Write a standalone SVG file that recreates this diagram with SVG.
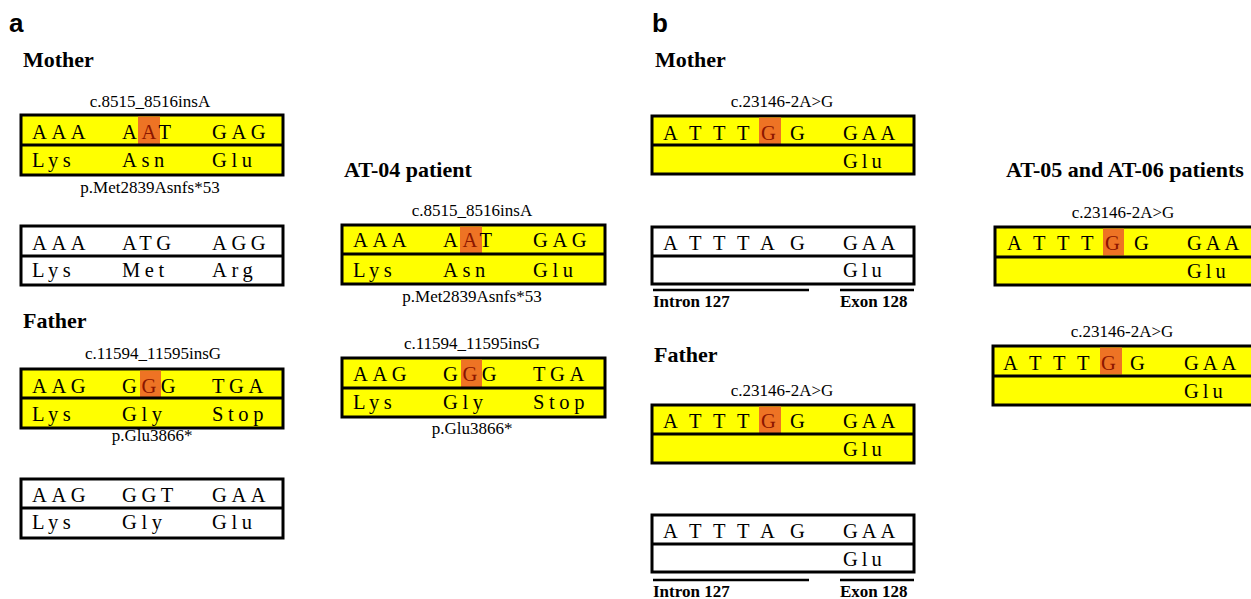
<svg xmlns="http://www.w3.org/2000/svg" width="1251" height="599" viewBox="0 0 1251 599">
<style>
.seq{font-family:"Liberation Serif",serif;font-size:20.5px;letter-spacing:4.6px;fill:#000}
.seqb{font-family:"Liberation Serif",serif;font-size:20.5px;fill:#000}
.glu{font-family:"Liberation Serif",serif;font-size:20.5px;letter-spacing:4px;fill:#000}
.lbl{font-family:"Liberation Serif",serif;font-size:17px;text-anchor:middle;fill:#000}
.ttl{font-family:"Liberation Serif",serif;font-weight:bold;font-size:22px;fill:#000}
.pan{font-family:"Liberation Sans",Arial,sans-serif;font-weight:bold;font-size:26px;fill:#000}
.sub{font-family:"Liberation Serif",serif;font-weight:bold;font-size:17px;fill:#000}
.mut{fill:#FFFF00;stroke:#000;stroke-width:3}
.wt{fill:#FFFFFF;stroke:#000;stroke-width:3}
.div{stroke:#000;stroke-width:3}
.hl{fill:#EE7324}
.bar{stroke:#000;stroke-width:2.5}
.red{fill:#8B1500}
</style>
<g id="panel-a">
<text class="pan" x="9" y="32">a</text>
<text class="ttl" x="23" y="67">Mother</text>
<g id="a-mother-mut">
<text class="lbl" x="150" y="107">c.8515_8516insA</text>
<rect class="mut" x="21" y="115" width="262" height="60"/>
<rect class="hl" x="138" y="116.5" width="22" height="27.5"/>
<line class="div" x1="21" y1="145" x2="283" y2="145"/>
<text class="seq" y="139"><tspan x="32">AAA</tspan><tspan x="122">A</tspan><tspan class="red">A</tspan><tspan>T</tspan><tspan x="212">GAG</tspan></text>
<text class="seq" y="167"><tspan x="32">Lys</tspan><tspan x="122">Asn</tspan><tspan x="212">Glu</tspan></text>
<text class="lbl" x="150" y="193">p.Met2839Asnfs*53</text>
</g>
<g id="a-mother-wt">
<rect class="wt" x="21" y="226" width="262" height="59"/>
<line class="div" x1="21" y1="256" x2="283" y2="256"/>
<text class="seq" y="250"><tspan x="32">AAA</tspan><tspan x="122">ATG</tspan><tspan x="212">AGG</tspan></text>
<text class="seq" y="277"><tspan x="32">Lys</tspan><tspan x="122">Met</tspan><tspan x="212">Arg</tspan></text>
</g>
<text class="ttl" x="23" y="328">Father</text>
<g id="a-father-mut">
<text class="lbl" x="153" y="359">c.11594_11595insG</text>
<rect class="mut" x="21" y="369" width="262" height="59"/>
<rect class="hl" x="140" y="370.5" width="21" height="26.5"/>
<line class="div" x1="21" y1="398" x2="283" y2="398"/>
<text class="seq" y="393"><tspan x="32">AAG</tspan><tspan x="122">G</tspan><tspan class="red">G</tspan><tspan>G</tspan><tspan x="212">TGA</tspan></text>
<text class="seq" y="421"><tspan x="32">Lys</tspan><tspan x="122">Gly</tspan><tspan x="212">Stop</tspan></text>
<text class="lbl" x="152" y="441">p.Glu3866*</text>
</g>
<g id="a-father-wt">
<rect class="wt" x="21" y="479" width="262" height="59"/>
<line class="div" x1="21" y1="508" x2="283" y2="508"/>
<text class="seq" y="502"><tspan x="32">AAG</tspan><tspan x="122">GGT</tspan><tspan x="212">GAA</tspan></text>
<text class="seq" y="529"><tspan x="32">Lys</tspan><tspan x="122">Gly</tspan><tspan x="212">Glu</tspan></text>
</g>
<text class="ttl" x="344" y="177">AT-04 patient</text>
<g id="a-at04-mut1">
<text class="lbl" x="472" y="216">c.8515_8516insA</text>
<rect class="mut" x="342" y="225" width="263" height="59"/>
<rect class="hl" x="460" y="226.5" width="22" height="26.5"/>
<line class="div" x1="342" y1="254" x2="605" y2="254"/>
<text class="seq" y="247"><tspan x="353">AAA</tspan><tspan x="443">A</tspan><tspan class="red">A</tspan><tspan>T</tspan><tspan x="533">GAG</tspan></text>
<text class="seq" y="277"><tspan x="353">Lys</tspan><tspan x="443">Asn</tspan><tspan x="533">Glu</tspan></text>
<text class="lbl" x="472" y="302">p.Met2839Asnfs*53</text>
</g>
<g id="a-at04-mut2">
<text class="lbl" x="472" y="349">c.11594_11595insG</text>
<rect class="mut" x="342" y="358" width="263" height="59"/>
<rect class="hl" x="461" y="359.5" width="21" height="27.5"/>
<line class="div" x1="342" y1="388" x2="605" y2="388"/>
<text class="seq" y="381"><tspan x="353">AAG</tspan><tspan x="443">G</tspan><tspan class="red">G</tspan><tspan>G</tspan><tspan x="533">TGA</tspan></text>
<text class="seq" y="409"><tspan x="353">Lys</tspan><tspan x="443">Gly</tspan><tspan x="533">Stop</tspan></text>
<text class="lbl" x="472" y="434">p.Glu3866*</text>
</g>
</g>
<g id="panel-b">
<text class="pan" x="652" y="32">b</text>
<text class="ttl" x="655" y="67">Mother</text>
<g id="b-mother-mut">
<text class="lbl" x="782" y="107">c.23146-2A&gt;G</text>
<rect class="mut" x="652" y="116" width="262" height="58"/>
<rect class="hl" x="759" y="117.5" width="22" height="26.5"/>
<line class="div" x1="652" y1="145" x2="914" y2="145"/>
<text class="seqb" y="140"><tspan x="663 689 713 737">ATTT</tspan><tspan class="red" x="761">G</tspan><tspan x="790">G</tspan></text>
<text class="glu" x="843" y="140">GAA</text>
<text class="glu" x="843" y="168">Glu</text>
</g>
<g id="b-mother-wt">
<rect class="wt" x="652" y="227" width="262" height="57"/>
<line class="div" x1="652" y1="256" x2="914" y2="256"/>
<text class="seqb" y="250" x="663 689 713 737 760 790">ATTTAG</text>
<text class="glu" x="843" y="250">GAA</text>
<text class="glu" x="843" y="277">Glu</text>
<line class="bar" x1="653" y1="290" x2="809" y2="290"/>
<line class="bar" x1="840" y1="290" x2="914" y2="290"/>
<text class="sub" x="653" y="307">Intron 127</text>
<text class="sub" x="840" y="307">Exon 128</text>
</g>
<text class="ttl" x="654" y="362">Father</text>
<g id="b-father-mut">
<text class="lbl" x="782" y="396">c.23146-2A&gt;G</text>
<rect class="mut" x="652" y="405" width="262" height="58"/>
<rect class="hl" x="759" y="406.5" width="22" height="26.5"/>
<line class="div" x1="652" y1="434" x2="914" y2="434"/>
<text class="seqb" y="428"><tspan x="663 689 713 737">ATTT</tspan><tspan class="red" x="761">G</tspan><tspan x="790">G</tspan></text>
<text class="glu" x="843" y="428">GAA</text>
<text class="glu" x="843" y="456">Glu</text>
</g>
<g id="b-father-wt">
<rect class="wt" x="652" y="515" width="262" height="57"/>
<line class="div" x1="652" y1="544" x2="914" y2="544"/>
<text class="seqb" y="538" x="663 689 713 737 760 790">ATTTAG</text>
<text class="glu" x="843" y="538">GAA</text>
<text class="glu" x="843" y="566">Glu</text>
<line class="bar" x1="653" y1="580" x2="809" y2="580"/>
<line class="bar" x1="840" y1="580" x2="914" y2="580"/>
<text class="sub" x="653" y="597">Intron 127</text>
<text class="sub" x="840" y="597">Exon 128</text>
</g>
<text class="ttl" x="1006" y="177">AT-05 and AT-06 patients</text>
<g id="b-patient-mut1">
<text class="lbl" x="1123" y="218">c.23146-2A&gt;G</text>
<rect class="mut" x="995" y="227" width="262" height="58"/>
<rect class="hl" x="1103" y="228.5" width="21" height="27"/>
<line class="div" x1="995" y1="257" x2="1257" y2="257"/>
<text class="seqb" y="250"><tspan x="1007 1033 1057 1081">ATTT</tspan><tspan class="red" x="1105">G</tspan><tspan x="1134">G</tspan></text>
<text class="glu" x="1187" y="250">GAA</text>
<text class="glu" x="1187" y="278">Glu</text>
</g>
<g id="b-patient-mut2">
<text class="lbl" x="1122" y="337">c.23146-2A&gt;G</text>
<rect class="mut" x="993" y="346" width="262" height="59"/>
<rect class="hl" x="1100" y="347.5" width="22" height="27"/>
<line class="div" x1="993" y1="376" x2="1255" y2="376"/>
<text class="seqb" y="370"><tspan x="1003 1029 1053 1077">ATTT</tspan><tspan class="red" x="1101">G</tspan><tspan x="1130">G</tspan></text>
<text class="glu" x="1184" y="370">GAA</text>
<text class="glu" x="1184" y="398">Glu</text>
</g>
</g>
</svg>
